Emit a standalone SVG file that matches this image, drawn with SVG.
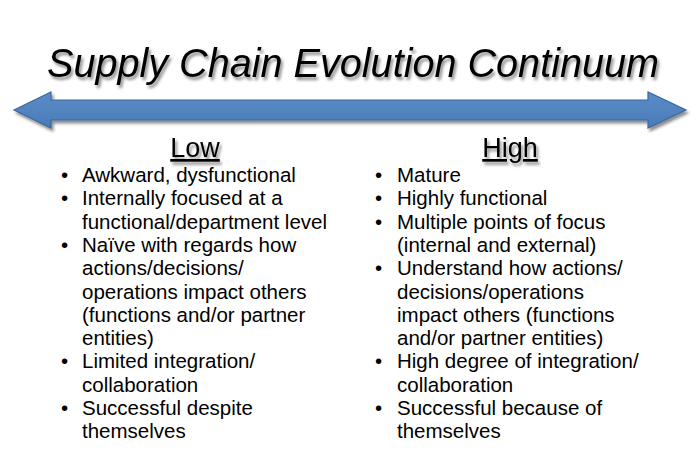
<svg xmlns="http://www.w3.org/2000/svg" width="700" height="461" viewBox="0 0 700 461">
<style>
.title{font-family:"Liberation Sans",Arial,sans-serif;font-style:italic;font-size:41px;fill:#000}
.head{font-family:"Liberation Sans",Arial,sans-serif;font-size:27px;fill:#000;text-anchor:middle;text-decoration:underline}
.item{font-family:"Liberation Sans",Arial,sans-serif;font-size:20.5px;fill:#000}
</style>
<defs>
<filter id="shadow" x="-5%" y="-20%" width="110%" height="150%">
<feGaussianBlur in="SourceAlpha" stdDeviation="1.5"/>
<feOffset dx="2" dy="3" result="b"/>
<feComponentTransfer><feFuncA type="linear" slope="0.45"/></feComponentTransfer>
<feMerge><feMergeNode/><feMergeNode in="SourceGraphic"/></feMerge>
</filter>
<linearGradient id="arrowFill" x1="0" y1="0" x2="0" y2="1">
<stop offset="0" stop-color="#5a8cc8"/>
<stop offset="1" stop-color="#4a7bb7"/>
</linearGradient>
</defs>
<rect width="700" height="461" fill="#fff"/>
<g id="title" filter="url(#shadow)">
<text class="title" x="47" y="77" textLength="612" lengthAdjust="spacingAndGlyphs">Supply Chain Evolution Continuum</text>
</g>
<g id="connectors">
<polygon id="continuum-arrow" points="14,110 51,92 51,100 648,100 648,92 686,110 648,128 648,120 51,120 51,128" fill="url(#arrowFill)" stroke="#3a679e" stroke-width="1.2" stroke-linejoin="miter" filter="url(#shadow)"/>
</g>
<g id="low">
<text class="head" x="195" y="157" filter="url(#shadow)">Low</text>
<g class="item">
<text class="item" x="61" y="182">•</text>
<text class="item" x="82" y="182">Awkward, dysfunctional</text>
<text class="item" x="61" y="205.3">•</text>
<text class="item" x="82" y="205.3">Internally focused at a</text>
<text class="item" x="82" y="228.6">functional/department level</text>
<text class="item" x="61" y="251.9">•</text>
<text class="item" x="82" y="251.9">Naïve with regards how</text>
<text class="item" x="82" y="275.2">actions/decisions/</text>
<text class="item" x="82" y="298.5">operations impact others</text>
<text class="item" x="82" y="321.8">(functions and/or partner</text>
<text class="item" x="82" y="345.1">entities)</text>
<text class="item" x="61" y="368.4">•</text>
<text class="item" x="82" y="368.4">Limited integration/</text>
<text class="item" x="82" y="391.7">collaboration</text>
<text class="item" x="61" y="415">•</text>
<text class="item" x="82" y="415">Successful despite</text>
<text class="item" x="82" y="438.3">themselves</text>
</g>
</g>
<g id="high">
<text class="head" x="510" y="157" filter="url(#shadow)">High</text>
<g class="item">
<text class="item" x="375" y="182">•</text>
<text class="item" x="397" y="182">Mature</text>
<text class="item" x="375" y="205.3">•</text>
<text class="item" x="397" y="205.3">Highly functional</text>
<text class="item" x="375" y="228.6">•</text>
<text class="item" x="397" y="228.6">Multiple points of focus</text>
<text class="item" x="397" y="251.9">(internal and external)</text>
<text class="item" x="375" y="275.2">•</text>
<text class="item" x="397" y="275.2">Understand how actions/</text>
<text class="item" x="397" y="298.5">decisions/operations</text>
<text class="item" x="397" y="321.8">impact others (functions</text>
<text class="item" x="397" y="345.1">and/or partner entities)</text>
<text class="item" x="375" y="368.4">•</text>
<text class="item" x="397" y="368.4">High degree of integration/</text>
<text class="item" x="397" y="391.7">collaboration</text>
<text class="item" x="375" y="415">•</text>
<text class="item" x="397" y="415">Successful because of</text>
<text class="item" x="397" y="438.3">themselves</text>
</g>
</g>
</svg>
